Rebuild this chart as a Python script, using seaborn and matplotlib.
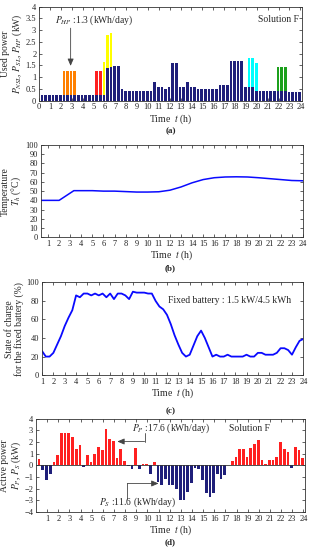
import numpy as np
import matplotlib
matplotlib.use("Agg")
import matplotlib.pyplot as plt
from matplotlib.ticker import FuncFormatter
import seaborn as sns

# ---- data (20-min slots, 1..72) ----
# (a) used power, base (navy) part, kW
used_base = [0.25, 0.25, 0.25, 0.25, 0.25, 0.25, 0.25, 0.25, 0.25, 0.25, 0.25, 0.25,
             0.25, 0.25, 0.25, 0.25, 0.25, 0.25, 1.38, 1.45, 1.48, 1.48, 0.50, 0.40,
             0.40, 0.40, 0.40, 0.40, 0.40, 0.40, 0.40, 0.80, 0.58, 0.58, 0.50, 0.58,
             1.60, 1.60, 0.58, 0.58, 0.78, 0.58, 0.58, 0.50, 0.50, 0.50, 0.50, 0.50,
             0.50, 0.68, 0.68, 0.68, 1.67, 1.67, 1.67, 1.67, 0.60, 0.60, 0.60, 0.42,
             0.42, 0.42, 0.42, 0.42, 0.42, 0.40, 0.40, 0.40, 0.35, 0.35, 0.35, 0.35]
hp_slots = [7, 8, 9, 10]
hp_top = [1.26, 1.26, 1.26, 1.26]
red_slots = [16, 17]
red_top = [1.26, 1.26]
yellow_slots = [18, 19, 20]
yellow_top = [1.65, 2.80, 2.88]
cyan_slots = [58, 59, 60]
cyan_top = [1.83, 1.83, 1.62]
green_slots = [66, 67, 68]
green_top = [1.42, 1.42, 1.42]

# (b) hot water temperature
temp_t = [0.33, 2.0, 3.33, 5, 6, 7, 8, 9, 10, 11, 12, 13, 14, 15, 16, 17, 18, 19, 20, 21, 22, 23, 24]
temp_v = [40, 40, 50.5, 50.5, 50, 50, 49.5, 49, 49, 49.3, 51, 54.5, 59, 62.5, 64.5, 65.3, 65.5,
          65.3, 64.5, 63.5, 62.5, 61.5, 61.2]

# (c) state of charge, every 20 min from 1 h to 24 h
soc = [26, 20, 20, 24, 33, 42, 53, 62, 70, 86,
       84, 88, 88, 86, 88, 86, 88, 84, 88,
       82, 88, 88, 86, 82, 90, 89, 89, 89,
       88, 88, 80, 74, 71, 65, 55, 43, 33,
       24, 20, 22, 32, 42, 48, 40, 30, 20,
       22, 20, 20, 22, 20, 20, 20, 20, 22,
       20, 20, 24, 24, 22, 22, 22, 24, 29,
       29, 27, 22, 30, 37, 39]

# (d) active power (+ purchase, - sale), kW
p_grid = [0.55, -0.40, -1.25, -0.70, 0.30, 0.85, 2.75, 2.75, 2.75, 2.45, 1.40, 1.75,
          -0.10, 0.85, 0.30, 0.95, 1.55, 1.35, 3.10, 2.25, 2.10, 0.60, 1.40, 0.40,
          -0.05, -0.30, 1.50, -0.30, 0.10, 0.10, -0.70, 0.30, -1.45, -1.65, -1.20, -1.65,
          -1.70, -2.00, -3.00, -3.00, -2.30, -1.55, -0.20, -0.30, -1.25, -2.40, -2.75, -2.40,
          -0.70, -1.15, -0.85, 0.00, 0.40, 0.70, 1.40, 1.40, 0.70, 1.50, 1.80, 2.20,
          0.45, 0.15, 0.45, 0.45, 0.75, 2.00, 1.45, 1.15, -0.25, 1.55, 1.30, 0.65]

NAVY = "#1f1f7a"
BLUE = "#0a0aff"

sns.set_theme(style="ticks")
plt.rcParams["font.family"] = ["Liberation Serif", "DejaVu Serif"]
plt.rcParams["mathtext.fontset"] = "stix"

fig = plt.figure(figsize=(3.1, 5.5), dpi=100)
ax_a = fig.add_axes([0.126, 0.817, 0.848, 0.171])
ax_b = fig.add_axes([0.131, 0.5685, 0.846, 0.168])
ax_c = fig.add_axes([0.1355, 0.318, 0.843, 0.1685])
ax_d = fig.add_axes([0.116, 0.069, 0.868, 0.1696])


def bars(ax, slot_list, heights, color):
    x = np.asarray(slot_list) / 3 - 0.05
    sns.barplot(x=x, y=heights, native_scale=True, orient="x", color=color,
                saturation=1, width=0.72, errorbar=None, linewidth=0, ax=ax)


def style(ax):
    ax.tick_params(direction="in", top=True, right=True, length=2.5, width=0.5,
                   labelsize=6, pad=2, colors="#222222")
    for s in ax.spines.values():
        s.set_linewidth(0.6)
        s.set_color("#333333")
    ax.set_xlabel("Time  $t$ (h)", fontsize=7, labelpad=0.5)


def ylab(ax, text, x):
    ax.set_ylabel(text, fontsize=6.9, linespacing=1.05)
    ax.yaxis.set_label_coords(x, 0.5)


fmt = FuncFormatter(lambda v, _: f"{v:g}")

# ---- (a) ----
all_slots = np.arange(1, 73)
bars(ax_a, hp_slots, hp_top, "#ff8000")
bars(ax_a, red_slots, red_top, "#ff2020")
bars(ax_a, yellow_slots, yellow_top, "#ffff00")
bars(ax_a, cyan_slots, cyan_top, "#00ffff")
bars(ax_a, green_slots, green_top, "#1ca01c")
bars(ax_a, all_slots, used_base, NAVY)
ax_a.set_xlim(0, 24.15)
ax_a.set_ylim(0, 4)
ax_a.set_xticks(range(0, 25))
ax_a.set_yticks(np.arange(0, 4.01, 0.5))
ax_a.yaxis.set_major_formatter(fmt)
style(ax_a)
ylab(ax_a, "Used power\n$P_{NSL}$, $P_{SL}$, $P_{HP}$ (kW)", -0.056)
ax_a.text(1.45, 3.43, "$P_{HP}$ :1.3 (kWh/day)", fontsize=6.9, va="center")
ax_a.annotate("", xy=(2.9, 1.36), xytext=(2.9, 3.2),
              arrowprops=dict(arrowstyle="-|>,head_length=0.35,head_width=0.15",
                              color="#444444", lw=0.6))
ax_a.text(23.85, 3.46, "Solution F", fontsize=6.9, ha="right", va="center")

# ---- (b) ----
sns.lineplot(x=temp_t, y=temp_v, color=BLUE, lw=1.1, ax=ax_b)
ax_b.set_xlim(0.33, 24)
ax_b.set_ylim(0, 100)
ax_b.set_xticks(range(1, 25))
ax_b.set_yticks(range(0, 101, 10))
style(ax_b)
ylab(ax_b, "Temperature\n$T_h$ (\u00b0C)", -0.066)

# ---- (c) ----
soc_t = np.linspace(1, 24, len(soc))
sns.lineplot(x=soc_t, y=soc, color=BLUE, lw=1.3, ax=ax_c)
ax_c.set_xlim(1, 24)
ax_c.set_ylim(0, 100)
ax_c.set_xticks(range(1, 25))
ax_c.set_yticks(range(0, 101, 20))
style(ax_c)
ylab(ax_c, "State of charge\nfor the fixed battery (%)", -0.068)
ax_c.text(12.05, 80, "Fixed battery : 1.5 kW/4.5 kWh", fontsize=6.9, va="center")

# ---- (d) ----
p = np.asarray(p_grid)
bars(ax_d, all_slots, np.where(p > 0, p, 0), "#ff2020")
bars(ax_d, all_slots, np.where(p < 0, p, 0), NAVY)
ax_d.axhline(0, color="#333333", lw=0.6)
ax_d.set_xlim(0, 24.15)
ax_d.set_ylim(-4, 4)
ax_d.set_xticks(range(1, 25))
ax_d.set_yticks(range(-4, 5))
style(ax_d)
ylab(ax_d, "Active power\n$P_P$, $P_S$ (kW)", -0.05)
ax_d.text(8.6, 3.2, "$P_P$ :17.6 (kWh/day)", fontsize=6.9, va="center")
ax_d.plot([9.75, 9.75], [2.75, 2.05], color="#444444", lw=0.6)
ax_d.annotate("", xy=(7.3, 2.05), xytext=(9.75, 2.05),
              arrowprops=dict(arrowstyle="-|>,head_length=0.35,head_width=0.15",
                              color="#444444", lw=0.6, shrinkA=0, shrinkB=0))
ax_d.text(5.7, -3.2, "$P_S$ :11.6 (kWh/day)", fontsize=6.9, va="center")
ax_d.plot([8.2, 8.2], [-2.85, -1.55], color="#444444", lw=0.6)
ax_d.annotate("", xy=(11.0, -1.55), xytext=(8.2, -1.55),
              arrowprops=dict(arrowstyle="-|>,head_length=0.35,head_width=0.15",
                              color="#444444", lw=0.6, shrinkA=0, shrinkB=0))
ax_d.text(17.35, 3.17, "Solution F", fontsize=6.9, va="center")

# captions
for lbl, y in [("(a)", 131), ("(b)", 268), ("(c)", 411), ("(d)", 542)]:
    fig.text(0.55, 1 - y / 550, lbl, fontsize=6.5, fontweight="bold", ha="center", va="center")

fig.savefig("out.png", dpi=100)
